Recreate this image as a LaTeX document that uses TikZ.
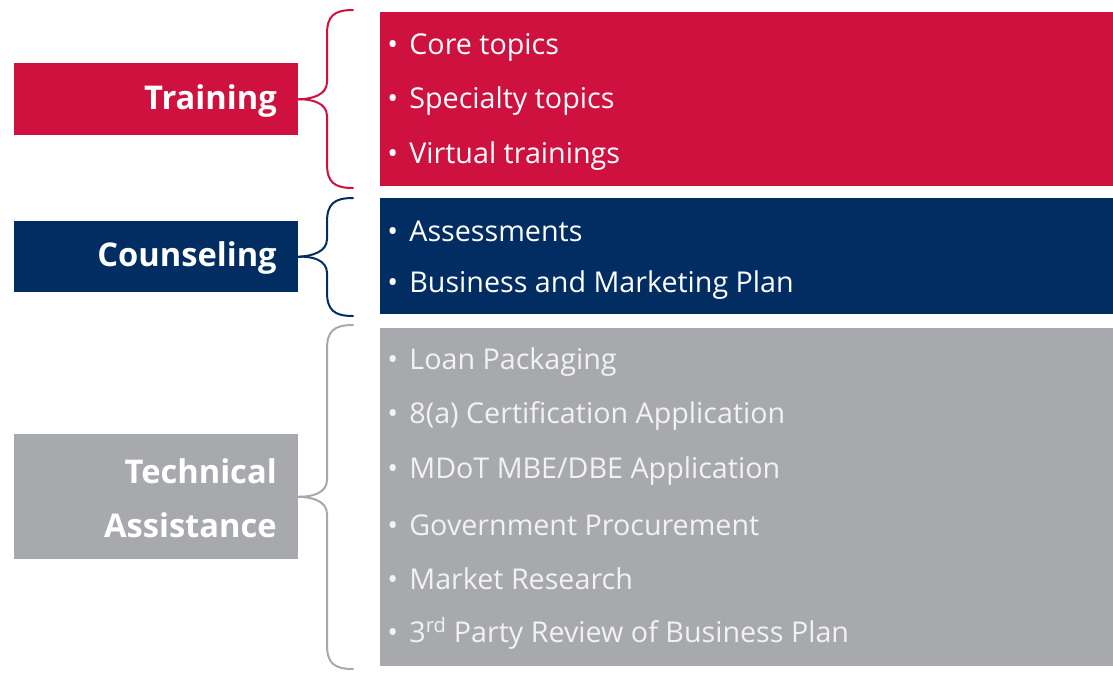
\documentclass[tikz,border=0pt]{standalone}
\usepackage{fontspec}
\setmainfont{Open Sans}
\usetikzlibrary{positioning}
\definecolor{trainred}{RGB}{206,17,62}
\definecolor{counselblue}{RGB}{1,45,98}
\definecolor{assistgray}{RGB}{168,169,173}
\definecolor{paletext}{RGB}{242,242,242}

\begin{document}
\begin{tikzpicture}
	[x=0.75pt,y=-0.75pt,
	label/.style={rectangle,inner sep=0pt,minimum width=213pt,anchor=north west},
	labeltxt/.style={anchor=east,inner sep=0pt,font=\fontsize{24.5}{40.5}\selectfont\bfseries,
		text=white,align=right},
	panel/.style={rectangle,inner sep=0pt,minimum width=549.75pt,anchor=north west},
	item/.style={anchor=west,inner sep=0pt,font=\fontsize{21.5}{26}\selectfont,text=white},
	item2/.style={item,text=paletext},
	brace/.style={line width=1.5pt,line cap=round}]
	\useasboundingbox (0,0) rectangle (1113,676);
	%etiquetas
	\node[label,fill=trainred,minimum height=54pt] (train) at (14,63) {};
	\node[label,fill=counselblue,minimum height=53.25pt] (counsel) at (14,221) {};
	\node[label,fill=assistgray,minimum height=93.75pt] (assist) at (14,434) {};
	\node[labeltxt] (traintxt) at (277,101) {Training};
	\node[labeltxt] (counseltxt) at (277,258) {Counseling};
	\node[labeltxt] (assisttxt) at (277,498) {Technical\\Assistance};
	%paneles
	\node[panel,fill=trainred,minimum height=130.5pt] (trainbox) at (380,12) {};
	\node[panel,fill=counselblue,minimum height=87pt] (counselbox) at (380,198) {};
	\node[panel,fill=assistgray,minimum height=253.5pt] (assistbox) at (380,328) {};
	%temas
	\node[item] (t1) at (387,47) {•\hspace{8.5pt}Core topics};
	\node[item] (t2) at (387,101) {•\hspace{8.5pt}Specialty topics};
	\node[item] (t3) at (387,156) {•\hspace{8.5pt}Virtual trainings};
	\node[item] (c1) at (387,231) {•\hspace{8.5pt}Assessments};
	\node[item] (c2) at (387,285) {•\hspace{8.5pt}Business and Marketing Plan};
	\node[item2] (a1) at (387,362) {•\hspace{8.5pt}Loan Packaging};
	\node[item2] (a2) at (387,416) {•\hspace{8.5pt}8(a) Certification Application};
	\node[item2] (a3) at (387,471) {•\hspace{8.5pt}MDoT MBE/DBE Application};
	\node[item2] (a4) at (387,525) {•\hspace{8.5pt}Government Procurement};
	\node[item2] (a5) at (387,579) {•\hspace{8.5pt}Market Research};
	\node[item2] (a6) at (387,633) {•\hspace{8.5pt}3\textsuperscript{rd} Party Review of Business Plan};
	%llaves
	\coordinate (trtop) at (353,10);
	\coordinate (trbot) at (353,188);
	\coordinate (cotop) at (353,198);
	\coordinate (cobot) at (353,316);
	\coordinate (astop) at (353,325);
	\coordinate (asbot) at (353,669);
	\draw[brace,trainred] (train.east) .. controls (312,99) and (327,95) .. (327,82) -- (327,34) .. controls (327,16) and (334,10) .. (trtop);
	\draw[brace,trainred] (train.east) .. controls (312,99) and (327,103) .. (327,116) -- (327,164) .. controls (327,182) and (334,188) .. (trbot);
	\draw[brace,counselblue] (counsel.east) .. controls (312,256) and (327,252) .. (327,239) -- (327,222) .. controls (327,204) and (334,198) .. (cotop);
	\draw[brace,counselblue] (counsel.east) .. controls (312,256) and (327,260) .. (327,273) -- (327,292) .. controls (327,310) and (334,316) .. (cobot);
	\draw[brace,assistgray] (assist.east) .. controls (312,497) and (327,493) .. (327,480) -- (327,349) .. controls (327,331) and (334,325) .. (astop);
	\draw[brace,assistgray] (assist.east) .. controls (312,497) and (327,501) .. (327,514) -- (327,645) .. controls (327,663) and (334,669) .. (asbot);
\end{tikzpicture}
\end{document}
